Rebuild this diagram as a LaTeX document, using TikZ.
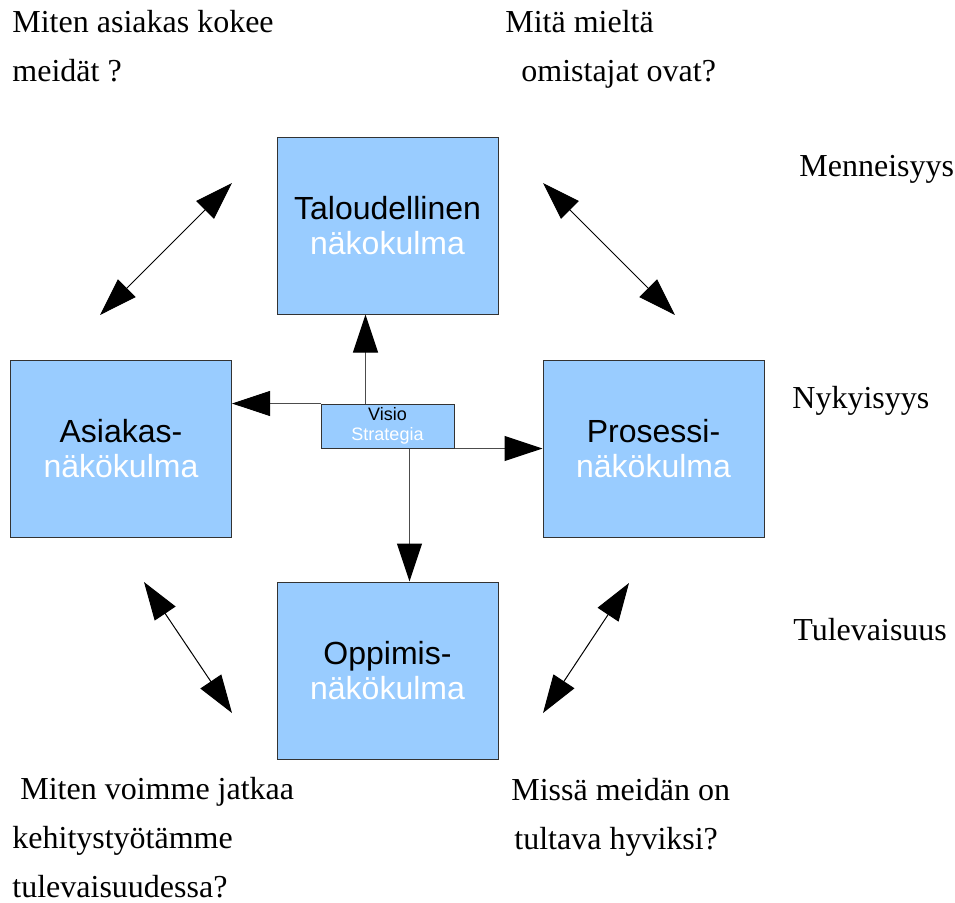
\documentclass[tikz,border=0pt]{standalone}
\usepackage{fontspec}
\setmainfont{Liberation Serif}
\setsansfont{Liberation Sans}
\usepackage{tikz}
\usetikzlibrary{arrows.meta,positioning}
\definecolor{bl}{HTML}{99CCFF}
\colorlet{ed}{black!80}
\newcommand{\bxtext}[2]{#1\\\textcolor{white}{#2}}
\tikzset{bx/.style={rectangle, draw=ed, fill=bl, line width=0.5pt, inner sep=0pt,
            minimum width=110.5pt, minimum height=88.5pt, align=center,
            font=\sffamily\fontsize{16}{17.5}\selectfont},
         vs/.style={bx, minimum width=66.5pt, minimum height=22pt,
            font=\sffamily\fontsize{9}{10}\selectfont},
         q/.style={anchor=base west, align=left, inner sep=0pt,
            font=\fontsize{16}{24.5}\selectfont},
         tip/.style={-{Triangle[length=19pt,width=12.5pt,black]}, line width=0.5pt, draw=black!70},
         dtip/.style={{Triangle[length=19pt,width=12.5pt]}-{Triangle[length=19pt,width=12.5pt]},
            line width=0.5pt}}

\begin{document}
\begin{tikzpicture}[x=0.5pt, y=-0.5pt]
\useasboundingbox (0,0) rectangle (955,902);

 \node[vs] (vis) at (387.5,426) {\bxtext{Visio}{Strategia}};
 \node[bx] (tal) [above=44.5pt of vis] {\bxtext{Taloudellinen}{näkokulma}};
 \node[bx] (opp) [below=66.5pt of vis] {\bxtext{Oppimis-}{näkökulma}};
 \node[bx] (asi) at (121,449) {\bxtext{Asiakas-}{näkökulma}};
 \node[bx] (pro) at (653.5,449) {\bxtext{Prosessi-}{näkökulma}};

 \draw[tip] ([xshift=-11pt]vis.north) -- ([xshift=-11pt]vis.north |- tal.south);
 \draw[tip] (vis.north west) -- (vis.north west -| asi.east);
 \draw[tip] (vis.south east) -- (vis.south east -| pro.west);
 \draw[tip] ([xshift=11pt]vis.south) -- ([xshift=11pt]vis.south |- opp.north);

 % questions and time labels (placed at baseline of last line)
 \node[q] (q1) at (12,81) {Miten asiakas kokee\\meidät ?};
 \node[q] (q2) at (505,81) {Mitä mieltä\\\hspace*{8pt}omistajat ovat?};
 \node[q] (q3) at (12,897) {\hspace*{4pt}Miten voimme jatkaa\\kehitystyötämme\\tulevaisuudessa?};
 \node[q] (q4) at (511,849) {Missä meidän on\\\hspace*{1.5pt}tultava hyviksi?};
 \node[q] (men) at (799,176) {Menneisyys};
 \node[q] (nyk) at (792,408) {Nykyisyys};
 \node[q] (tul) at (793,640) {Tulevaisuus};

 \coordinate (d1a) at (100,315);  \coordinate (d1b) at (232,183);
 \coordinate (d2a) at (543,183);  \coordinate (d2b) at (675,315);
 \coordinate (d3a) at (144,582);  \coordinate (d3b) at (232,713);
 \coordinate (d4a) at (629,583);  \coordinate (d4b) at (543,713);
 \draw[dtip] (d1a) -- (d1b);
 \draw[dtip] (d2a) -- (d2b);
 \draw[dtip] (d3a) -- (d3b);
 \draw[dtip] (d4a) -- (d4b);
\end{tikzpicture}
\end{document}
